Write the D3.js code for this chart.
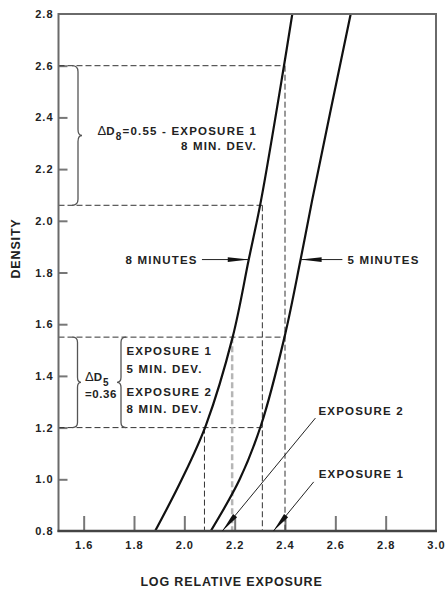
<!DOCTYPE html>
<html>
<head>
<meta charset="utf-8">
<script src="https://cdn.jsdelivr.net/npm/d3@7"></script>
<style>
  html, body { margin: 0; padding: 0; background: #fff; }
  svg { display: block; }
  text { font-family: "Liberation Sans", Arial, Helvetica, sans-serif; font-weight: bold; fill: #222; }
</style>
</head>
<body>
<svg id="chart" width="445" height="590"></svg>
<script>
// ---- data ----
const xTickValues = [1.6, 1.8, 2.0, 2.2, 2.4, 2.6, 2.8, 3.0];
const yTickValues = [0.8, 1.0, 1.2, 1.4, 1.6, 1.8, 2.0, 2.2, 2.4, 2.6, 2.8];

// 8 minute development curve
const logExposure8 = [1.884, 1.99, 2.086, 2.192, 2.256, 2.305, 2.396, 2.429];
const density8     = [0.80, 1.00, 1.21, 1.55, 1.85, 2.08, 2.60, 2.80];
// 5 minute development curve
const logExposure5 = [2.105, 2.22, 2.305, 2.398, 2.462, 2.508, 2.661];
const density5     = [0.80, 1.00, 1.21, 1.55, 1.85, 2.08, 2.80];

// reference (dashed) readings: density level -> log exposure where it meets a curve
const hRefDensity  = [2.60, 2.06, 1.55, 1.20];
const hRefExposure = [2.40, 2.31, 2.40, 2.31];
const vRefExposure = [2.08, 2.19, 2.31, 2.40];
const vRefDensity  = [1.20, 1.55, 2.06, 2.60];
const vRefGray     = [false, true, false, false];

// ---- setup ----
const svg = d3.select("#chart");
const x = d3.scaleLinear().domain([1.5, 3.0]).range([58.5, 436]);
const y = d3.scaleLinear().domain([0.8, 2.8]).range([531, 14]);

svg.append("clipPath").attr("id", "plotClip").append("rect")
  .attr("x", x(1.5)).attr("y", y(2.8)).attr("width", x(3.0) - x(1.5)).attr("height", y(0.8) - y(2.8));

// axes ticks
const gy = svg.append("g").attr("transform", `translate(${x(1.5)},0)`)
  .call(d3.axisLeft(y).tickValues(yTickValues).tickFormat(d3.format(".1f")).tickSize(-9).tickSizeOuter(0).tickPadding(5));
gy.select(".domain").remove();
gy.selectAll(".tick line").attr("stroke", "#777").attr("stroke-width", 2)
  .filter(d => d === 0.8 || d === 2.8).remove();
gy.selectAll(".tick text").attr("font-size", 11).attr("letter-spacing", 1).attr("fill", "#222")
  .style("font-family", "'Liberation Sans', Arial, sans-serif").style("font-weight", "bold");

const gx = svg.append("g").attr("transform", `translate(0,${y(0.8)})`)
  .call(d3.axisBottom(x).tickValues(xTickValues).tickFormat(d3.format(".1f")).tickSize(-15).tickSizeOuter(0).tickPadding(10.5));
gx.select(".domain").remove();
gx.selectAll(".tick line").attr("stroke", "#777").attr("stroke-width", 2)
  .filter(d => d === 3.0).remove();
gx.selectAll(".tick text").attr("font-size", 11).attr("letter-spacing", 1).attr("fill", "#222")
  .style("font-family", "'Liberation Sans', Arial, sans-serif").style("font-weight", "bold");

// dashed reference lines
const refG = svg.append("g");
hRefDensity.forEach((d, i) => {
  refG.append("line")
    .attr("x1", x(1.5)).attr("x2", x(hRefExposure[i]))
    .attr("y1", y(d)).attr("y2", y(d))
    .attr("stroke", "#333").attr("stroke-width", 1).attr("stroke-dasharray", "6,3");
});
vRefExposure.forEach((e, i) => {
  refG.append("line")
    .attr("x1", x(e)).attr("x2", x(e))
    .attr("y1", y(vRefDensity[i])).attr("y2", y(0.8))
    .attr("stroke", vRefGray[i] ? "#b5b5b5" : "#333")
    .attr("stroke-width", vRefGray[i] ? 2.5 : 1)
    .attr("stroke-dasharray", "6,3");
});

// curves
const line = d3.line().x(d => x(d[0])).y(d => y(d[1])).curve(d3.curveCatmullRom.alpha(0.5));
const curveG = svg.append("g").attr("clip-path", "url(#plotClip)");
curveG.append("path").datum(logExposure8.map((e, i) => [e, density8[i]]))
  .attr("d", line).attr("fill", "none").attr("stroke", "#111").attr("stroke-width", 2.2);
curveG.append("path").datum(logExposure5.map((e, i) => [e, density5[i]]))
  .attr("d", line).attr("fill", "none").attr("stroke", "#111").attr("stroke-width", 2.2);

// frame
svg.append("rect")
  .attr("x", x(1.5)).attr("y", y(2.8)).attr("width", x(3.0) - x(1.5)).attr("height", y(0.8) - y(2.8))
  .attr("fill", "none").attr("stroke", "#6a6a6a").attr("stroke-width", 2);
svg.append("line").attr("x1", x(1.5) - 1).attr("x2", x(3.0) + 1).attr("y1", y(0.8)).attr("y2", y(0.8))
  .attr("stroke", "#444").attr("stroke-width", 2.5);

// axis titles
svg.append("text").attr("x", 231.5).attr("y", 585.5).attr("text-anchor", "middle")
  .attr("font-size", 12.5).attr("letter-spacing", 0.85).text("LOG RELATIVE EXPOSURE");
svg.append("text").attr("transform", "translate(20,248.5) rotate(-90)").attr("text-anchor", "middle")
  .attr("font-size", 12.5).attr("letter-spacing", 0.85).text("DENSITY");

// helpers
function bracePath(xs, y1, y2, r, t, dir) {
  const ym = (y1 + y2) / 2;
  const p = d3.path();
  p.moveTo(xs - dir * r, y1);
  p.quadraticCurveTo(xs, y1, xs, y1 + r);
  p.lineTo(xs, ym - r);
  p.quadraticCurveTo(xs, ym, xs + dir * t, ym);
  p.quadraticCurveTo(xs, ym, xs, ym + r);
  p.lineTo(xs, y2 - r);
  p.quadraticCurveTo(xs, y2, xs - dir * r, y2);
  return p.toString();
}
function arrow(tipX, tipY, tailX, tailY, headLen, halfW) {
  const dx = tailX - tipX, dy = tailY - tipY, L = Math.hypot(dx, dy);
  const ux = dx / L, uy = dy / L, px = -uy, py = ux;
  const bx = tipX + ux * headLen, by = tipY + uy * headLen;
  svg.append("line").attr("x1", tipX).attr("y1", tipY).attr("x2", tailX).attr("y2", tailY)
    .attr("stroke", "#222").attr("stroke-width", 1);
  svg.append("path")
    .attr("d", `M${tipX},${tipY}L${bx + px * halfW},${by + py * halfW}L${bx - px * halfW},${by - py * halfW}Z`)
    .attr("fill", "#111");
}

const braceStyle = sel => sel.attr("fill", "none").attr("stroke", "#555").attr("stroke-width", 1.3);

// top brace: Delta D8
svg.append("path").attr("d", bracePath(78, y(2.6), y(2.06), 6, 4, 1)).call(braceStyle);
const t1 = svg.append("text").attr("x", 257).attr("y", 135).attr("text-anchor", "end")
  .attr("font-size", 11.5).attr("letter-spacing", 1.2);
t1.append("tspan").attr("font-weight", "normal").attr("font-size", 13).attr("letter-spacing", 0).text("\u0394");
t1.append("tspan").text("D");
t1.append("tspan").attr("dy", 5).attr("font-size", 10).text("8");
t1.append("tspan").attr("dy", -5).text("=0.55 - EXPOSURE 1");
svg.append("text").attr("x", 257).attr("y", 150).attr("text-anchor", "end")
  .attr("font-size", 11.5).attr("letter-spacing", 1.2).text("8 MIN. DEV.");

// lower braces: Delta D5
svg.append("path").attr("d", bracePath(77.5, y(1.55), y(1.2), 5, 3.5, 1)).call(braceStyle);
svg.append("path").attr("d", bracePath(121, y(1.55), y(1.2), 5, 4, -1)).call(braceStyle);
const t2 = svg.append("text").attr("x", 85).attr("y", 381).attr("font-size", 11.5).attr("letter-spacing", 1);
t2.append("tspan").attr("font-weight", "normal").attr("font-size", 13).attr("letter-spacing", 0).text("\u0394");
t2.append("tspan").text("D");
t2.append("tspan").attr("dy", 5).attr("font-size", 10).text("5");
svg.append("text").attr("x", 85).attr("y", 398).attr("font-size", 11.5).attr("letter-spacing", 0.6).text("=0.36");

const blockLines = ["EXPOSURE 1", "5 MIN. DEV.", "EXPOSURE 2", "8 MIN. DEV."];
const blockY = [355, 373, 396, 413];
blockLines.forEach((s, i) => {
  svg.append("text").attr("x", 126.5).attr("y", blockY[i]).attr("font-size", 11.5).attr("letter-spacing", 1.2).text(s);
});

// development-time arrows
arrow(x(2.256), y(1.85), x(2.07), y(1.85), 21, 2.4);
svg.append("text").attr("x", x(2.053)).attr("y", y(1.85) + 4).attr("text-anchor", "end")
  .attr("font-size", 11.5).attr("letter-spacing", 1.2).text("8 MINUTES");
arrow(x(2.462), y(1.85), x(2.628), y(1.85), 21, 2.4);
svg.append("text").attr("x", x(2.648)).attr("y", y(1.85) + 4)
  .attr("font-size", 11.5).attr("letter-spacing", 1.2).text("5 MINUTES");

// exposure arrows
arrow(x(2.151), y(0.8), x(2.521), y(1.237), 20, 2.6);
svg.append("text").attr("x", x(2.521) + 3).attr("y", y(1.237) - 3)
  .attr("font-size", 11.5).attr("letter-spacing", 1.2).text("EXPOSURE 2");
arrow(x(2.354), y(0.8), x(2.514), y(0.99), 20, 2.6);
svg.append("text").attr("x", x(2.514) + 5).attr("y", y(0.99) - 4)
  .attr("font-size", 11.5).attr("letter-spacing", 1.2).text("EXPOSURE 1");
</script>
</body>
</html>
